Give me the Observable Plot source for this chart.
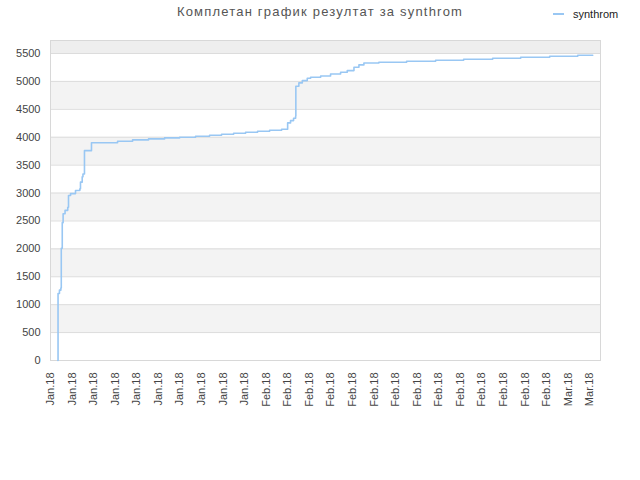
<!DOCTYPE html>
<html><head><meta charset="utf-8">
<script src="https://cdn.jsdelivr.net/npm/d3@7"></script>
<script src="https://cdn.jsdelivr.net/npm/@observablehq/plot@0.6"></script>
<style>
body{margin:0;background:#fff;font-family:"Liberation Sans",Arial,sans-serif;}
#wrap{position:relative;width:640px;height:480px;}
#chart{position:absolute;left:0;top:0;}
#title{position:absolute;left:0;top:4px;width:640px;text-align:center;font-size:13px;color:#555;letter-spacing:1.2px;}
#legend{position:absolute;left:553px;top:8px;font-size:11px;color:#222;display:flex;align-items:center;}
#legend .sw{display:inline-block;width:11px;height:2px;background:#99c7f3;margin-right:9px;}
</style></head><body>
<div id="wrap"><div id="chart"></div><div id="title"></div><div id="legend"><span class="sw"></span><span id="lname"></span></div></div>
<script>
const titleText = "Комплетан график резултат за synthrom";
const seriesName = "synthrom";
// x = days since first tick label
const days = [0.68,0.70,0.83,0.96,1.00,1.09,1.17,1.35,1.60,1.67,1.86,2.32,2.72,2.78,2.94,3.01,3.15,3.80,6.22,7.61,9.09,10.58,11.97,13.45,14.75,15.86,16.98,18.09,19.20,20.32,21.43,21.99,22.26,22.54,22.73,22.75,23.03,23.35,23.81,24.12,25.05,25.97,26.90,27.52,28.14,28.60,29.06,30.45,33.02,35.71,38.31,41.00,43.60,46.29,48.89,50.28];
const values = [0,1200,1260,1300,2010,2470,2630,2690,2745,2955,2990,3045,3075,3195,3290,3340,3760,3900,3928,3952,3970,3988,4000,4017,4035,4053,4071,4089,4107,4125,4143,4257,4298,4340,4375,4913,4973,5015,5056,5074,5097,5134,5164,5194,5253,5296,5331,5343,5361,5379,5397,5415,5433,5451,5469,5469];
const tickDays = [0,2,4,6,8,10,12,14,16,18,20,22,24,26,28,30,32,34,36,38,40,42,44,46,48,50];
const tickLabels = ["Jan.18","Jan.18","Jan.18","Jan.18","Jan.18","Jan.18","Jan.18","Jan.18","Jan.18","Jan.18","Feb.18","Feb.18","Feb.18","Feb.18","Feb.18","Feb.18","Feb.18","Feb.18","Feb.18","Feb.18","Feb.18","Feb.18","Feb.18","Feb.18","Mar.18","Mar.18"];
const yTicks = [0,500,1000,1500,2000,2500,3000,3500,4000,4500,5000,5500];
const bandLow = [500,1500,2500,3500,4500,5500];
const bandHigh = [1000,2000,3000,4000,5000,5733];
const bandFill = ["#f3f3f3","#f3f3f3","#f3f3f3","#f3f3f3","#f3f3f3","#eeeeee"];
const xDomain = [0,51];
const yDomain = [0,5733];

document.getElementById("title").textContent = titleText;
document.getElementById("lname").textContent = seriesName;

const pts = days.map((d,i)=>({d, v: values[i]}));
const bands = bandLow.map((lo,i)=>({lo, hi: bandHigh[i], f: bandFill[i]}));

const chart = Plot.plot({
  width: 640, height: 480,
  marginTop: 40, marginLeft: 50, marginRight: 40, marginBottom: 120,
  style: {fontSize: "11px", fontFamily: "'Liberation Sans', Arial, sans-serif", color: "#444", background: "transparent"},
  x: {domain: xDomain, ticks: tickDays, tickFormat: d => tickLabels[tickDays.indexOf(d)], tickRotate: -90, tickSize: 0, tickPadding: 12, label: null},
  y: {domain: yDomain, ticks: yTicks, tickFormat: d => String(d), tickSize: 0, tickPadding: 10, label: null},
  marks: [
    Plot.rect(bands, {x1: xDomain[0], x2: xDomain[1], y1: "lo", y2: "hi", fill: d => d.f}),
    Plot.ruleY(yTicks, {stroke: "#dcdcdc"}),
    Plot.frame({stroke: "#d8d8d8"}),
    Plot.line(pts, {x: "d", y: "v", stroke: "#99c7f3", strokeWidth: 1.6, curve: "step-after"})
  ]
});
document.getElementById("chart").appendChild(chart);
</script>
</body></html>
